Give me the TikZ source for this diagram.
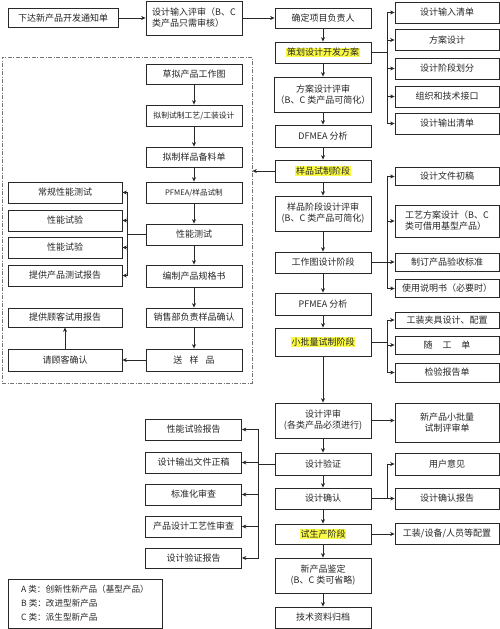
\documentclass[tikz,border=0pt]{standalone}
\usepackage{fontspec}
\setmainfont{Noto Sans CJK SC}
\usepackage{tikz}
\usepackage{xcolor}
\usetikzlibrary{arrows.meta, positioning, calc}
\definecolor{cHilite}{RGB}{250,250,70}
\definecolor{cLine}{RGB}{40,40,40}
\newcommand{\hilite}[1]{{\setlength{\fboxsep}{0.6pt}\colorbox{cHilite}{#1}}}
\tikzset{
	process/.style  ={rectangle, draw=cLine, line width=0.8pt, fill=white, minimum height=21pt, inner sep=1pt, align=center, text=black!85},
	mainbox/.style  ={process, minimum width=96pt},
	innerbox/.style ={process, minimum width=96pt},
	leftbox/.style  ={process, minimum width=114pt},
	sidebox/.style  ={process, minimum width=104pt},
	twoline/.style  ={minimum height=35pt},
	flowarrow/.style={-{Stealth[length=4.5pt, width=4pt]}, line width=0.7pt, cLine},
	% frame of the sample stage
	trialframe/.style={rectangle, draw=black!55, line width=0.8pt, dash pattern=on 4pt off 1.5pt on 1pt off 1.5pt, minimum width=250pt, minimum height=326pt},
}

\begin{document}
\begin{tikzpicture}[x=1pt, y=-1pt, every node/.style={font=\fontsize{9}{11}\selectfont}]
	\useasboundingbox (0,0) rectangle (500,629);
	\node[trialframe] (trial) at (127,220) {};
	% top row
	\node[process, minimum width=110pt, minimum height=19pt] (notice) at (63,18) {下达新产品开发通知单};
	\node[mainbox, minimum height=34pt, align=left] (inrev) at (194,18) {设计输入评审（B、C\\类产品只需审核）};
	% main column
	\node[mainbox, minimum height=20pt] (leader) at (323,18) {确定项目负责人};
	\node[mainbox] (plan) at (323,52.5) {\hilite{策划设计开发方案}};
	\node[mainbox, twoline] (schrev) at (323,94.5) {方案设计评审\\（B、C 类产品可简化）};
	\node[mainbox, minimum height=22pt] (dfmea) at (323,136) {DFMEA 分析};
	\node[mainbox, minimum height=22pt] (sample) at (323,171) {\hilite{样品试制阶段}};
	\node[mainbox, twoline] (samrev) at (323,213.5) {样品阶段设计评审\\(B、C 类产品可简化)};
	\node[mainbox] (drawing) at (323,262.5) {工作图设计阶段};
	\node[mainbox, minimum height=22pt] (pfmea) at (323,304) {PFMEA 分析};
	\node[mainbox, minimum height=28pt] (batch) at (323,342) {\hilite{小批量试制阶段}};
	\node[mainbox, twoline] (review) at (323,420.5) {设计评审\\(各类产品必须进行)};
	\node[mainbox, minimum height=22pt] (verify) at (323,464) {设计验证};
	\node[mainbox] (confirm) at (323,498.5) {设计确认};
	\node[mainbox, minimum height=20pt] (trialprod) at (323,534) {\hilite{试生产阶段}};
	\node[mainbox, twoline] (appraise) at (323,575.5) {新产品鉴定\\(B、C 类可省略)};
	\node[mainbox] (archive) at (323,617.5) {技术资料归档};
	% right column
	\node[sidebox] (r1) at (447,12.5) {设计输入清单};
	\node[sidebox] (r2) at (447,40) {方案设计};
	\node[sidebox] (r3) at (447,68.5) {设计阶段划分};
	\node[sidebox] (r4) at (447,96.5) {组织和技术接口};
	\node[sidebox] (r5) at (447,123.5) {设计输出清单};
	\node[sidebox, minimum height=18pt] (r6) at (447,176.5) {设计文件初稿};
	\node[sidebox, minimum height=32pt, align=left] (r7) at (447,221) {工艺方案设计（B、C\\类可借用基型产品）};
	\node[sidebox, minimum height=18pt] (r8) at (447,262) {制订产品验收标准};
	\node[sidebox, minimum height=18pt] (r9) at (447,288.5) {使用说明书（必要时）};
	\node[sidebox, minimum height=16pt] (r10) at (447,320) {工装夹具设计、配置};
	\node[sidebox, minimum height=18pt] (r11) at (447,345) {随\hspace{1.1em}工\hspace{1.1em}单};
	\node[sidebox, minimum height=19pt] (r12) at (447,372.5) {检验报告单};
	\node[sidebox, minimum height=39pt] (r13) at (447,422.5) {新产品小批量\\试制评审单};
	\node[sidebox, minimum height=22pt] (r14) at (447,464) {用户意见};
	\node[sidebox] (r15) at (447,498.5) {设计确认报告};
	\node[sidebox] (r16) at (447,533.5) {工装/设备/人员等配置};
	% inside the dashed frame
	\node[innerbox, minimum height=20pt] (m1) at (194,74) {草拟产品工作图};
	\node[innerbox, font=\fontsize{7.8}{9}\selectfont] (m2) at (194,115.5) {拟制试制工艺/工装设计};
	\node[innerbox, minimum height=20pt] (m3) at (194,157) {拟制样品备料单};
	\node[innerbox, font=\fontsize{7.6}{9}\selectfont] (m4) at (194,192.5) {PFMEA/样品试制};
	\node[innerbox] (m5) at (194,234.5) {性能测试};
	\node[innerbox, minimum height=22pt] (m6) at (194,276) {编制产品规格书};
	\node[innerbox, minimum height=19pt] (m7) at (194,317.5) {销售部负责样品确认};
	\node[innerbox, minimum height=22pt] (m8) at (194,360) {送\hspace{0.8em}样\hspace{0.8em}品};
	\node[leftbox] (l1) at (65,192.5) {常规性能测试};
	\node[leftbox] (l2) at (65,220.5) {性能试验};
	\node[leftbox] (l3) at (65,247.5) {性能试验};
	\node[leftbox] (l4) at (65,275.5) {提供产品测试报告};
	\node[leftbox, minimum height=19pt] (l5) at (65,317.5) {提供顾客试用报告};
	\node[leftbox, minimum height=22pt] (l6) at (65,360) {请顾客确认};
	% verification outputs
	\node[innerbox] (b1) at (193.5,429.5) {性能试验报告};
	\node[innerbox] (b2) at (193.5,462.5) {设计输出文件正稿};
	\node[innerbox] (b3) at (193.5,494.5) {标准化审查};
	\node[innerbox] (b4) at (193.5,526.5) {产品设计工艺性审查};
	\node[innerbox, minimum height=20pt] (b5) at (193.5,558) {设计验证报告};
	% legend
	\node[process, minimum width=154pt, minimum height=49pt, align=left, inner sep=6pt, font=\fontsize{8.6}{14}\selectfont] (legend) at (85,603.5) {A 类：创新性新产品（基型产品）\\B 类：改进型新产品\\C 类：派生型新产品};

	\draw[flowarrow] (notice) -- (inrev);
	\draw[flowarrow] (inrev) -- (leader);
	\foreach \a/\b in {leader/plan, plan/schrev, schrev/dfmea, dfmea/sample, sample/samrev, samrev/drawing, drawing/pfmea, pfmea/batch, batch/review, review/verify, verify/confirm, confirm/trialprod, trialprod/appraise, appraise/archive}
		\draw[flowarrow] (\a) -- (\b);
	\foreach \a/\b in {m1/m2, m2/m3, m3/m4, m4/m5, m5/m6, m6/m7, m7/m8}
		\draw[flowarrow] (\a) -- (\b);
	\draw[flowarrow] (m8) -- (l6);
	\draw[flowarrow] (l6) -- (l5);
	\draw[flowarrow] (sample.west) -- (sample.west -| trial.east);
	\draw[flowarrow] (review.east) -- (review.east -| r13.west);
	\draw[flowarrow] (trialprod.east) -- (trialprod.east -| r16.west);

	\draw[cLine, line width=0.7pt] (plan.east) -- ++(16,0) coordinate (k1) (k1 |- r1) -- (k1 |- r5);
	\foreach \n in {r1,r2,r3,r4,r5}
		\draw[flowarrow] (k1 |- \n.west) -- (\n.west);
	\draw[cLine, line width=0.7pt] (drawing.east) -- ++(16,0) coordinate (k2) (k2 |- r6) -- (k2 |- r9);
	\foreach \n in {r6,r7,r8,r9}
		\draw[flowarrow] (k2 |- \n.west) -- (\n.west);
	\draw[cLine, line width=0.7pt] (batch.east) -- ++(16,0) coordinate (k3) (k3 |- r10) -- (k3 |- r12);
	\foreach \n in {r10,r11,r12}
		\draw[flowarrow] (k3 |- \n.west) -- (\n.west);
	\draw[cLine, line width=0.7pt] (confirm.east) -- ++(16,0) coordinate (k4) -- (k4 |- r14);
	\foreach \n in {r14,r15}
		\draw[flowarrow] (k4 |- \n.west) -- (\n.west);
	\draw[cLine, line width=0.7pt] (m5.west) -- ++(-18,0) coordinate (k5) (k5 |- l1) -- (k5 |- l4);
	\foreach \n in {l1,l2,l3,l4}
		\draw[flowarrow] (k5 |- \n.east) -- (\n.east);
	\draw[cLine, line width=0.7pt] (verify.west) -- ++(-16,0) coordinate (k6) (k6 |- b1) -- (k6 |- b5);
	\foreach \n in {b1,b2,b3,b4,b5}
		\draw[flowarrow] (k6 |- \n.east) -- (\n.east);
\end{tikzpicture}
\end{document}
